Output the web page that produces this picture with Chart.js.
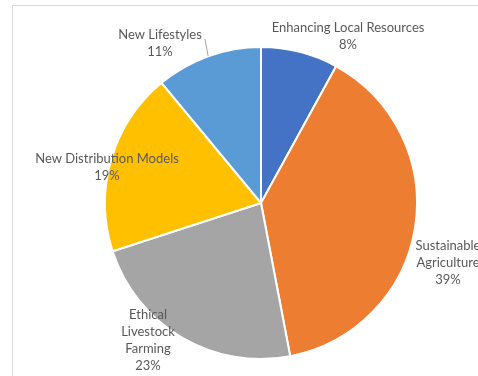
<!DOCTYPE html>
<html>
<head>
<meta charset="utf-8">
<script src="https://cdn.jsdelivr.net/npm/chart.js@4/dist/chart.umd.min.js"></script>
<style>
  html, body { margin: 0; padding: 0; background: #fff; }
  #wrap { position: relative; width: 478px; height: 376px; }
  #frame { position: absolute; left: 12px; top: 5px; right: 0; bottom: 0;
           border-left: 1px solid #d9d9d9; border-top: 1px solid #d9d9d9; }
  canvas { position: absolute; left: 0; top: 0; }
</style>
</head>
<body>
<div id="wrap">
  <div id="frame"></div>
  <canvas id="chart" width="478" height="376"></canvas>
</div>
<script>
const categories = [
  ['Enhancing Local Resources'],
  ['Sustainable', 'Agriculture'],
  ['Ethical', 'Livestock', 'Farming'],
  ['New Distribution Models'],
  ['New Lifestyles']
];
const shares = [8, 39, 23, 19, 11];
const sliceColors = ['#4472C4', '#ED7D31', '#A5A5A5', '#FFC000', '#5B9BD5'];

// label block centres, relative to the pie centre
const labelOffsets = [[87, -167], [187, 60], [-113, 137], [-154, -36], [-101, -160]];

const pieLabels = {
  id: 'pieLabels',
  afterDraw(chart) {
    const ctx = chart.ctx;
    const arcs = chart.getDatasetMeta(0).data;
    ctx.save();
    ctx.font = '13px Lato, "Liberation Sans", sans-serif';
    ctx.fillStyle = '#595959';
    ctx.textAlign = 'center';
    ctx.textBaseline = 'middle';
    const lh = 17;
    arcs.forEach((arc, i) => {
      const lines = categories[i].concat([shares[i] + '%']);
      const cx = arc.x + labelOffsets[i][0];
      const cy = arc.y + labelOffsets[i][1];
      const top = cy - (lines.length - 1) * lh / 2;
      lines.forEach((t, j) => ctx.fillText(t, cx, top + j * lh));
    });
    // leader line for the small top-left slice
    const a = arcs[4];
    const mid = (a.startAngle + a.endAngle) / 2;
    ctx.strokeStyle = '#a6a6a6';
    ctx.lineWidth = 1;
    ctx.beginPath();
    ctx.moveTo(a.x + Math.cos(mid) * a.outerRadius, a.y + Math.sin(mid) * a.outerRadius);
    ctx.lineTo(a.x - 56, a.y - 164);
    ctx.stroke();
    ctx.restore();
  }
};

new Chart(document.getElementById('chart'), {
  type: 'pie',
  data: {
    labels: categories.map(c => c.join(' ')),
    datasets: [{
      data: shares,
      backgroundColor: sliceColors,
      borderColor: '#ffffff',
      borderWidth: 2
    }]
  },
  options: {
    responsive: false,
    animation: false,
    layout: { padding: { top: 46, bottom: 16, left: 44, right: 0 } },
    plugins: {
      legend: { display: false },
      tooltip: { enabled: false }
    }
  },
  plugins: [pieLabels]
});
</script>
</body>
</html>
